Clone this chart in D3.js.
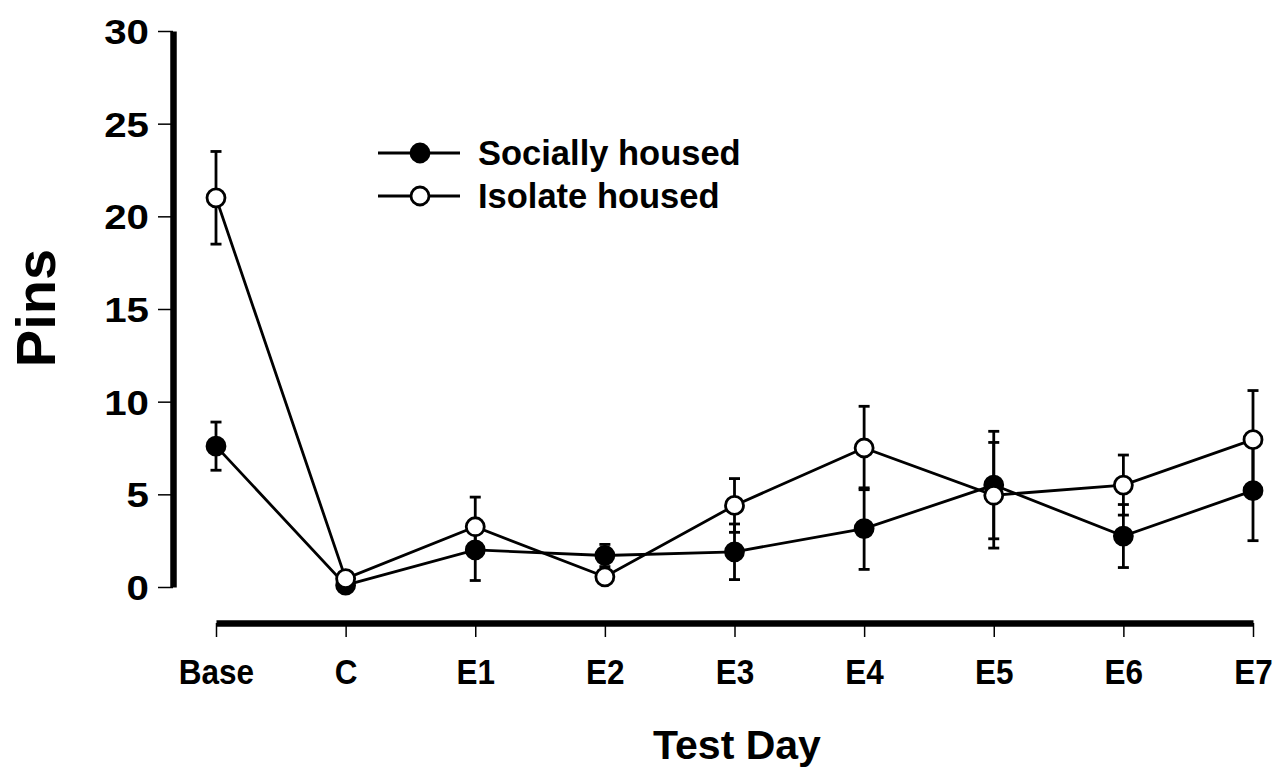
<!DOCTYPE html>
<html><head><meta charset="utf-8">
<script src="https://cdn.jsdelivr.net/npm/d3@7"></script>
<style>html,body{margin:0;padding:0;background:#fff;}svg{display:block;}text{font-family:"Liberation Sans",Arial,sans-serif;font-weight:bold;fill:#000;}</style>
</head><body>
<svg id="chart" width="1278" height="770"></svg>
<script>
const categories = ["Base","C","E1","E2","E3","E4","E5","E6","E7"];
const sociallyHoused = [7.6, 0.1, 2.0, 1.7, 1.9, 3.15, 5.5, 2.75, 5.2];
const sociallyErr    = [1.3, 0, 1.65, 0.6, 1.5, 2.2, 2.9, 1.7, 2.7];
const isolateHoused  = [21.0, 0.45, 3.25, 0.55, 4.4, 7.5, 4.95, 5.5, 7.95];
const isolateErr     = [2.5, 0, 1.6, 0, 1.45, 2.25, 2.85, 1.62, 2.65];
const yTicks = [0,5,10,15,20,25,30];
const seriesNames = ["Socially housed","Isolate housed"];

const svg = d3.select("#chart");
const x = d3.scalePoint().domain(categories).range([216, 1253]);
const y = d3.scaleLinear().domain([0,30]).range([587, 31]);

// Y axis
const yAxis = svg.append("g").attr("transform","translate(173,0)")
  .call(d3.axisLeft(y).tickValues(yTicks).tickSize(15).tickSizeOuter(0).tickPadding(0));
yAxis.select(".domain").attr("stroke","#000").attr("stroke-width",6.5);
yAxis.selectAll(".tick line").attr("stroke","#000").attr("stroke-width",1.5);
yAxis.selectAll(".tick text").remove();
yAxis.selectAll(".tick").append("text")
  .attr("text-anchor","end").attr("dy","0.36em")
  .attr("transform","translate(-24,0) scale(1.15,1)")
  .style("font-size","35px").text(d=>d);

// X axis
const xAxis = svg.append("g").attr("transform","translate(0,623)")
  .call(d3.axisBottom(x).tickSize(14).tickSizeOuter(0));
xAxis.select(".domain").attr("stroke","#000").attr("stroke-width",6.5);
xAxis.selectAll(".tick line").attr("stroke","#000").attr("stroke-width",1.5);
xAxis.selectAll(".tick text").remove();
xAxis.selectAll(".tick").append("text")
  .attr("text-anchor","middle")
  .attr("transform","translate(0,61) scale(0.9,1)")
  .style("font-size","35px").text(d=>d);

// Axis titles
svg.append("text").attr("transform","translate(55,308) rotate(-90)")
  .attr("text-anchor","middle").style("font-size","56px").text("Pins");
svg.append("text").attr("x",737).attr("y",759)
  .attr("text-anchor","middle").style("font-size","41px").text("Test Day");

function drawSeries(vals, errs, filled) {
  const g = svg.append("g");
  const data = categories.map((c,i)=>({c, v:vals[i], e:errs[i]}));
  const eb = g.selectAll(".eb").data(data.filter(d=>d.e>0)).enter().append("g");
  eb.append("line").attr("x1",d=>x(d.c)).attr("x2",d=>x(d.c))
    .attr("y1",d=>y(d.v-d.e)).attr("y2",d=>y(d.v+d.e))
    .attr("stroke","#000").attr("stroke-width",2.8);
  [1,-1].forEach(s=>{
    eb.append("line").attr("x1",d=>x(d.c)-5.5).attr("x2",d=>x(d.c)+5.5)
      .attr("y1",d=>y(d.v+s*d.e)).attr("y2",d=>y(d.v+s*d.e))
      .attr("stroke","#000").attr("stroke-width",2.8);
  });
  g.append("path").datum(data)
    .attr("d", d3.line().x(d=>x(d.c)).y(d=>y(d.v)))
    .attr("fill","none").attr("stroke","#000").attr("stroke-width",2.8);
  g.selectAll("circle").data(data).enter().append("circle")
    .attr("cx",d=>x(d.c)).attr("cy",d=>y(d.v)).attr("r",9)
    .attr("fill", filled ? "#000" : "#fff")
    .attr("stroke","#000").attr("stroke-width",2.8);
}
drawSeries(sociallyHoused, sociallyErr, true);
drawSeries(isolateHoused, isolateErr, false);

// Legend
const legY = [153,196];
seriesNames.forEach((name,i)=>{
  const lg = svg.append("g");
  lg.append("line").attr("x1",378).attr("x2",460).attr("y1",legY[i]).attr("y2",legY[i])
    .attr("stroke","#000").attr("stroke-width",2.8);
  lg.append("circle").attr("cx",420).attr("cy",legY[i]).attr("r",9)
    .attr("fill", i===0 ? "#000" : "#fff").attr("stroke","#000").attr("stroke-width",2.8);
  lg.append("text").attr("x",478).attr("y",legY[i]+12).style("font-size","34.5px").text(name);
});
</script>
</body></html>
